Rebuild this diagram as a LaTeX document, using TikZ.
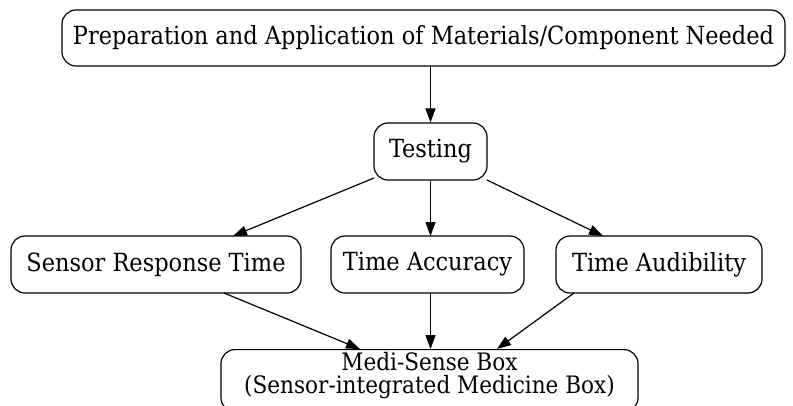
\documentclass[tikz,border=0pt]{standalone}
\usepackage{fontspec}
\setmainfont{DejaVu Serif Condensed}
\usetikzlibrary{arrows.meta}
\begin{document}
\begin{tikzpicture}[x=1pt,y=-1pt,
  box/.style={draw, line width=1.2pt, rounded corners=14pt, align=center, font=\fontsize{25}{21}\selectfont, inner sep=0pt},
  conn/.style={draw, line width=1.2pt, -{Triangle[length=14pt,width=10pt]}}]
\useasboundingbox (0,0) rectangle (793,405);
\node[box, minimum width=723pt, minimum height=56pt] (prep) at (423.5,38) {Preparation and Application of Materials/Component Needed};
\node[box, minimum width=113pt, minimum height=57pt] (test) at (430.5,151.5) {Testing};
\node[box, minimum width=290pt, minimum height=57pt] (srt) at (156,264.5) {Sensor Response Time};
\node[box, minimum width=193pt, minimum height=57pt] (acc) at (427.5,264.5) {Time Accuracy};
\node[box, minimum width=206pt, minimum height=57pt] (aud) at (659,264.5) {Time Audibility};
\node[box, font=\fontsize{24}{23}\selectfont, minimum width=417pt, anchor=north, inner ysep=3pt, text depth=15pt] (medi) at (429.5,349) {Medi-Sense Box\\(Sensor-integrated Medicine Box)};
\draw[conn] (430.5,66) -- (test.north);
\draw[conn] (374,178) -- (233,236);
\draw[conn] (test.south) -- (430.5,236);
\draw[conn] (487,180) -- (603,236);
\draw[conn] (224,293) -- (360,349);
\draw[conn] (430.5,293) -- (430.5,349);
\draw[conn] (574,293) -- (497,349);
\end{tikzpicture}
\end{document}
